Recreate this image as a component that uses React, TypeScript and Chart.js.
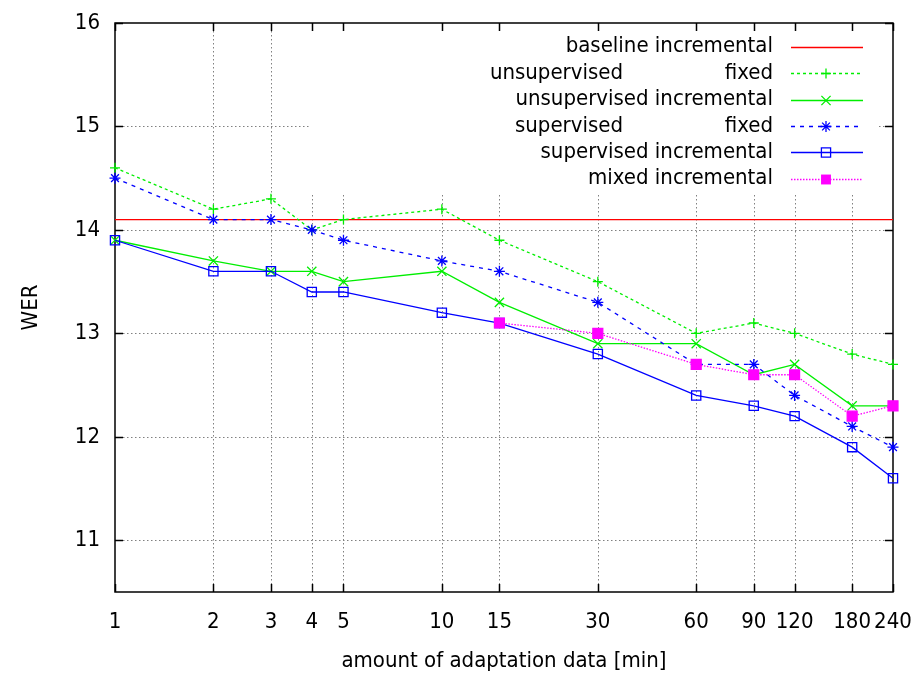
import React, { useEffect, useRef } from "react";
import { Chart, registerables } from "chart.js";
Chart.register(...registerables);

// ---- data ----
const xValues = [1, 2, 3, 4, 5, 10, 15, 30, 60, 90, 120, 180, 240];
const yTicks = [11, 12, 13, 14, 15, 16];
const baselineX = [1, 240];
const baselineWER = [14.1, 14.1];
const unsupFixed = [14.6, 14.2, 14.3, 14.0, 14.1, 14.2, 13.9, 13.5, 13.0, 13.1, 13.0, 12.8, 12.7];
const unsupIncr = [13.9, 13.7, 13.6, 13.6, 13.5, 13.6, 13.3, 12.9, 12.9, 12.6, 12.7, 12.3, 12.3];
const supFixed = [14.5, 14.1, 14.1, 14.0, 13.9, 13.7, 13.6, 13.3, 12.7, 12.7, 12.4, 12.1, 11.9];
const supIncr = [13.9, 13.6, 13.6, 13.4, 13.4, 13.2, 13.1, 12.8, 12.4, 12.3, 12.2, 11.9, 11.6];
const mixedX = [15, 30, 60, 90, 120, 180, 240];
const mixedIncr = [13.1, 13.0, 12.7, 12.6, 12.6, 12.2, 12.3];
const seriesLabels = [
  "baseline incremental",
  "unsupervised\tfixed",
  "unsupervised incremental",
  "supervised\tfixed",
  "supervised incremental",
  "mixed incremental",
];
const xTitle = "amount of adaptation data [min]";
const yTitle = "WER";

const FONT = '"DejaVu Sans Condensed", "Liberation Sans Narrow", "DejaVu Sans", sans-serif';
const FS = 22;

const pts = (xs: number[], ys: number[]) => xs.map((x, i) => ({ x, y: ys[i] }));

function drawMarker(ctx: CanvasRenderingContext2D, style: string, x: number, y: number, r: number, color: string) {
  ctx.save();
  ctx.setLineDash([]);
  ctx.strokeStyle = color;
  ctx.fillStyle = color;
  ctx.lineWidth = 1.3;
  ctx.beginPath();
  const d = r * Math.SQRT1_2;
  if (style === "cross" || style === "star") {
    ctx.moveTo(x - r, y); ctx.lineTo(x + r, y);
    ctx.moveTo(x, y - r); ctx.lineTo(x, y + r);
  }
  if (style === "crossRot" || style === "star") {
    ctx.moveTo(x - d, y - d); ctx.lineTo(x + d, y + d);
    ctx.moveTo(x - d, y + d); ctx.lineTo(x + d, y - d);
  }
  if (style === "rect") {
    ctx.rect(x - d, y - d, 2 * d, 2 * d);
  }
  ctx.stroke();
  if (style === "rectFill") {
    ctx.fillRect(x - d, y - d, 2 * d, 2 * d);
  }
  ctx.restore();
}

const KEY = { left: 309, right: 879, top: 20, bottom: 193 };

const framePlugin = {
  id: "frame",
  beforeDatasetsDraw(chart: any) {
    const { ctx, chartArea: a, scales } = chart;
    const xs = scales.x, ys = scales.y;
    ctx.save();
    ctx.beginPath();
    ctx.rect(a.left, a.top, a.right - a.left, a.bottom - a.top);
    ctx.rect(KEY.left, KEY.top, KEY.right - KEY.left, KEY.bottom - KEY.top);
    ctx.clip("evenodd");
    ctx.strokeStyle = "#808080";
    ctx.lineWidth = 1;
    ctx.setLineDash([1.5, 2.5]);
    ctx.beginPath();
    xValues.forEach((v) => {
      if (v === xValues[0] || v === xValues[xValues.length - 1]) return;
      const px = Math.round(xs.getPixelForValue(v)) + 0.5;
      ctx.moveTo(px, a.top); ctx.lineTo(px, a.bottom);
    });
    yTicks.forEach((v) => {
      const py = Math.round(ys.getPixelForValue(v)) + 0.5;
      if (py < a.top + 2) return;
      ctx.moveTo(a.left, py); ctx.lineTo(a.right, py);
    });
    ctx.stroke();
    ctx.restore();

    ctx.save();
    ctx.strokeStyle = "#000";
    ctx.lineWidth = 1.5;
    ctx.setLineDash([]);
    ctx.strokeRect(a.left, a.top, a.right - a.left, a.bottom - a.top);
    ctx.beginPath();
    const tl = 8;
    xValues.forEach((v) => {
      const px = Math.round(xs.getPixelForValue(v)) + 0.5;
      ctx.moveTo(px, a.bottom); ctx.lineTo(px, a.bottom - tl);
      ctx.moveTo(px, a.top); ctx.lineTo(px, a.top + tl);
    });
    yTicks.forEach((v) => {
      const py = Math.round(ys.getPixelForValue(v)) + 0.5;
      ctx.moveTo(a.left, py); ctx.lineTo(a.left + tl, py);
      ctx.moveTo(a.right, py); ctx.lineTo(a.right - tl, py);
    });
    ctx.stroke();
    ctx.restore();
  },
  afterDraw(chart: any) {
    const { ctx, chartArea: a } = chart;
    ctx.save();
    ctx.fillStyle = "#000";
    ctx.font = `${FS}px ${FONT}`;
    ctx.textBaseline = "middle";
    ctx.textAlign = "center";
    ctx.fillText(xTitle, (a.left + a.right) / 2, 661);
    ctx.save();
    ctx.translate(31, (a.top + a.bottom) / 2);
    ctx.rotate(-Math.PI / 2);
    ctx.fillText(yTitle, 0, 0);
    ctx.restore();

    const textRight = 773;
    const rowTop = 46.7;
    const rowH = 26.4;
    chart.data.datasets.forEach((ds: any, i: number) => {
      const y = rowTop + i * rowH;
      ctx.fillStyle = "#000";
      ctx.textAlign = "right";
      const parts = String(ds.label).split("\t");
      if (parts.length === 2) {
        ctx.fillText(parts[0], textRight - 150, y);
        ctx.fillText(parts[1], textRight, y);
      } else {
        ctx.fillText(parts[0], textRight, y);
      }
      ctx.save();
      ctx.strokeStyle = ds.borderColor;
      ctx.lineWidth = ds.borderWidth;
      ctx.setLineDash(ds.borderDash || []);
      ctx.beginPath();
      ctx.moveTo(791, Math.round(y) + 0.5);
      ctx.lineTo(863, Math.round(y) + 0.5);
      ctx.stroke();
      ctx.restore();
      if (ds.pointRadius > 0) {
        drawMarker(ctx, ds.legendMarker, 826, Math.round(y) + 0.5, ds.pointRadius, ds.borderColor);
      }
    });
    ctx.restore();
  },
};

export default function App() {
  const ref = useRef<HTMLCanvasElement>(null);
  useEffect(() => {
    document.body.style.margin = "0";
    const canvas = ref.current!;
    const common = { fill: false, tension: 0, borderWidth: 1.3, pointBorderWidth: 1.3 };
    const datasets: any[] = [
      { ...common, label: seriesLabels[0], data: pts(baselineX, baselineWER), borderColor: "#ff0000", pointRadius: 0, borderDash: [], legendMarker: "" },
      { ...common, label: seriesLabels[1], data: pts(xValues, unsupFixed), borderColor: "#00ee00", borderDash: [3, 3], pointStyle: "cross", pointRadius: 5, legendMarker: "cross" },
      { ...common, label: seriesLabels[2], data: pts(xValues, unsupIncr), borderColor: "#00ee00", borderDash: [], pointStyle: "crossRot", pointRadius: 6.5, legendMarker: "crossRot" },
      { ...common, label: seriesLabels[3], data: pts(xValues, supFixed), borderColor: "#0000ff", borderDash: [4, 5], pointStyle: "star", pointRadius: 5.5, legendMarker: "star" },
      { ...common, label: seriesLabels[4], data: pts(xValues, supIncr), borderColor: "#0000ff", borderDash: [], pointStyle: "rect", pointRadius: 6.5, legendMarker: "rect" },
      { ...common, label: seriesLabels[5], data: pts(mixedX, mixedIncr), borderColor: "#ff00ff", backgroundColor: "#ff00ff", borderDash: [1.5, 1.5], pointStyle: "rect", pointRadius: 7, legendMarker: "rectFill" },
    ];
    datasets.forEach((d, i) => {
      d.order = datasets.length - i;
      d.clip = false;
      d.pointBackgroundColor = d.legendMarker === "rectFill" ? d.borderColor : "rgba(0,0,0,0)";
      d.pointBorderColor = d.borderColor;
    });
    const chart = new Chart(canvas, {
      type: "line",
      data: { datasets },
      options: {
        animation: false,
        responsive: false,
        devicePixelRatio: 1,
        layout: { padding: { top: 23, right: 28, left: 0, bottom: 0 } },
        plugins: { legend: { display: false }, tooltip: { enabled: false } },
        scales: {
          x: {
            type: "logarithmic",
            min: 1,
            max: 240,
            grid: { display: false, drawTicks: false },
            border: { display: false },
            afterBuildTicks: (s: any) => { s.ticks = xValues.map((v) => ({ value: v })); },
            afterFit: (s: any) => { s.height = 81; s.paddingLeft = 0; s.paddingRight = 0; s.paddingTop = 0; s.paddingBottom = 0; },
            ticks: {
              autoSkip: false,
              maxRotation: 0,
              padding: 17,
              color: "#000",
              font: { family: FONT, size: FS },
              callback: (v: any) => String(v),
            },
          },
          y: {
            type: "linear",
            min: 10.5,
            max: 16,
            grid: { display: false, drawTicks: false },
            border: { display: false },
            afterBuildTicks: (s: any) => { s.ticks = yTicks.map((v) => ({ value: v })); },
            afterFit: (s: any) => { s.width = 115; s.paddingTop = 0; s.paddingBottom = 0; s.paddingLeft = 0; s.paddingRight = 0; },
            ticks: {
              padding: 15,
              color: "#000",
              font: { family: FONT, size: FS },
              callback: (v: any) => String(v),
            },
          },
        },
      } as any,
      plugins: [framePlugin],
    });
    return () => chart.destroy();
  }, []);
  return (
    <div style={{ width: 921, height: 673 }}>
      <canvas ref={ref} width={921} height={673} style={{ display: "block" }} />
    </div>
  );
}
